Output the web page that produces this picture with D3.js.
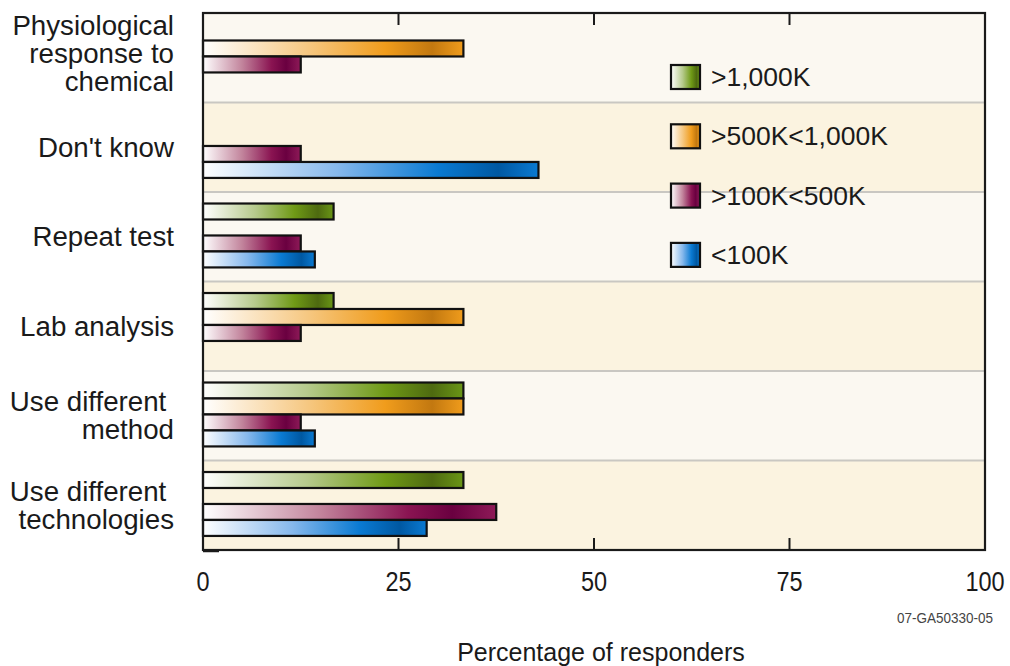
<!DOCTYPE html>
<html>
<head>
<meta charset="utf-8">
<script src="https://cdn.jsdelivr.net/npm/d3@7"></script>
<style>
  html, body { margin: 0; padding: 0; background: #ffffff; }
  svg { display: block; font-family: "Liberation Sans", Arial, Helvetica, sans-serif; }
</style>
</head>
<body>
<svg id="chart" width="1010" height="666"></svg>
<script>
// ---- data ----
const categories = ["Physiological response to chemical", "Don't know", "Repeat test", "Lab analysis", "Use different method", "Use different technologies"];
const categoryLines = [["Physiological", "response to", "chemical"], ["Don't know"], ["Repeat test"], ["Lab analysis"], ["Use different ", "method"], ["Use different ", "technologies"]];
const seriesNames = [">1,000K", ">500K<1,000K", ">100K<500K", "<100K"];
const over1000K = [null, null, 16.7, 16.7, 33.3, 33.3];
const from500Kto1000K = [33.3, null, null, 33.3, 33.3, null];
const from100Kto500K = [12.5, 12.5, 12.5, 12.5, 12.5, 37.5];
const under100K = [null, 42.9, 14.3, null, 14.3, 28.6];
const xTicks = [0, 25, 50, 75, 100];
const xTitle = "Percentage of responders";
const figureId = "07-GA50330-05";

const seriesValues = [over1000K, from500Kto1000K, from100Kto500K, under100K];

// ---- styles ----
const gradStops = [
  [["0%", "#ffffff"], ["40%", "#b6ca8c"], ["70%", "#6f9a16"], ["88%", "#4e6a10"], ["100%", "#6a9616"]],
  [["0%", "#ffffff"], ["40%", "#f6c882"], ["70%", "#f09c1c"], ["88%", "#c27810"], ["100%", "#f09c1c"]],
  [["0%", "#ffffff"], ["40%", "#c2849c"], ["70%", "#8a1452"], ["85%", "#6a0040"], ["100%", "#8e1a58"]],
  [["0%", "#ffffff"], ["40%", "#86b8ec"], ["70%", "#0a7ad2"], ["88%", "#0058a2"], ["100%", "#0a7ad2"]]
];

const svg = d3.select("#chart");
const plot = { left: 203, right: 985, top: 13, bottom: 550 };

const defs = svg.append("defs");
gradStops.forEach((stops, i) => {
  const g = defs.append("linearGradient").attr("id", "grad" + i)
    .attr("x1", "0%").attr("x2", "100%").attr("y1", "0%").attr("y2", "0%");
  stops.forEach(s => g.append("stop").attr("offset", s[0]).attr("stop-color", s[1]));
});

const x = d3.scaleLinear().domain([0, 100]).range([plot.left, plot.right]);
const y0 = d3.scaleBand().domain(categories).range([plot.top, plot.bottom]);
const y1 = d3.scaleBand().domain(seriesNames).range([0, y0.bandwidth()])
  .paddingInner(0).paddingOuter(0.8).align(0.45);

// band backgrounds
svg.append("g").selectAll("rect").data(categories).join("rect")
  .attr("x", plot.left).attr("width", plot.right - plot.left)
  .attr("y", d => y0(d)).attr("height", y0.bandwidth())
  .attr("fill", (d, i) => i % 2 === 0 ? "#fbf8f1" : "#fbf3e0");

// separators
svg.append("g").selectAll("line").data(categories.slice(1)).join("line")
  .attr("x1", plot.left).attr("x2", plot.right)
  .attr("y1", d => y0(d)).attr("y2", d => y0(d))
  .attr("stroke", "#c9c7c2").attr("stroke-width", 2);

// bars
const barData = [];
categories.forEach((c, ci) => {
  seriesNames.forEach((s, si) => {
    const v = seriesValues[si][ci];
    if (v != null) barData.push({ c, s, si, v });
  });
});
svg.append("g").selectAll("rect").data(barData).join("rect")
  .attr("x", x(0))
  .attr("y", d => y0(d.c) + y1(d.s))
  .attr("width", d => x(d.v) - x(0))
  .attr("height", y1.bandwidth())
  .attr("fill", d => `url(#grad${d.si})`)
  .attr("stroke", "#111")
  .attr("stroke-width", 2.2);

// frame
svg.append("rect")
  .attr("x", plot.left).attr("y", plot.top)
  .attr("width", plot.right - plot.left).attr("height", plot.bottom - plot.top)
  .attr("fill", "none").attr("stroke", "#1a1a1a").attr("stroke-width", 2.2);

// ticks (inside, top and bottom)
const innerTicks = xTicks.filter(t => t > 0 && t < 100);
svg.append("g").selectAll("line").data(innerTicks).join("line")
  .attr("x1", d => x(d)).attr("x2", d => x(d))
  .attr("y1", plot.bottom).attr("y2", plot.bottom - 12)
  .attr("stroke", "#1a1a1a").attr("stroke-width", 2);
svg.append("g").selectAll("line").data(innerTicks).join("line")
  .attr("x1", d => x(d)).attr("x2", d => x(d))
  .attr("y1", plot.top).attr("y2", plot.top + 12)
  .attr("stroke", "#1a1a1a").attr("stroke-width", 2);
// small stub at origin
svg.append("line")
  .attr("x1", x(0)).attr("x2", x(0) + 16)
  .attr("y1", plot.bottom + 1).attr("y2", plot.bottom + 1)
  .attr("stroke", "#1a1a1a").attr("stroke-width", 2.5);

// tick labels (condensed)
svg.append("g").selectAll("text").data(xTicks).join("text")
  .attr("transform", d => `translate(${x(d)},591) scale(0.84,1)`)
  .attr("text-anchor", "middle")
  .attr("font-size", 28).attr("fill", "#1a1a1a")
  .text(d => d);

// axis title
svg.append("text")
  .attr("x", (plot.left + plot.right) / 2 + 7).attr("y", 661)
  .attr("text-anchor", "middle").attr("font-size", 25).attr("fill", "#1a1a1a")
  .text(xTitle);

// figure id
svg.append("text")
  .attr("x", 993).attr("y", 623)
  .attr("text-anchor", "end").attr("font-size", 15).attr("fill", "#444")
  .attr("textLength", 96).attr("lengthAdjust", "spacingAndGlyphs")
  .text(figureId);

// category labels
const lineH = 28;
const labels = svg.append("g").selectAll("text").data(categories).join("text")
  .attr("text-anchor", "end").attr("font-size", 27.7).attr("fill", "#1a1a1a")
  .style("white-space", "pre");
labels.each(function (d, i) {
  const lines = categoryLines[i];
  const cy = y0(d) + y0.bandwidth() / 2 - (lines.length > 2 ? 4 : 0);
  const first = cy - (lines.length - 1) * lineH / 2 + 9.5;
  const t = d3.select(this);
  lines.forEach((ln, li) => {
    t.append("tspan").attr("x", 174).attr("y", first + li * lineH).text(ln);
  });
});

// legend
const legend = svg.append("g").selectAll("g").data(seriesNames).join("g")
  .attr("transform", (d, i) => `translate(671, ${65 + i * 59.3})`);
legend.append("rect")
  .attr("width", 29).attr("height", 24)
  .attr("fill", (d, i) => `url(#grad${i})`)
  .attr("stroke", "#111").attr("stroke-width", 2.2);
legend.append("text")
  .attr("x", 40).attr("y", 21)
  .attr("font-size", 26.5).attr("fill", "#1a1a1a")
  .text(d => d);
</script>
</body>
</html>
